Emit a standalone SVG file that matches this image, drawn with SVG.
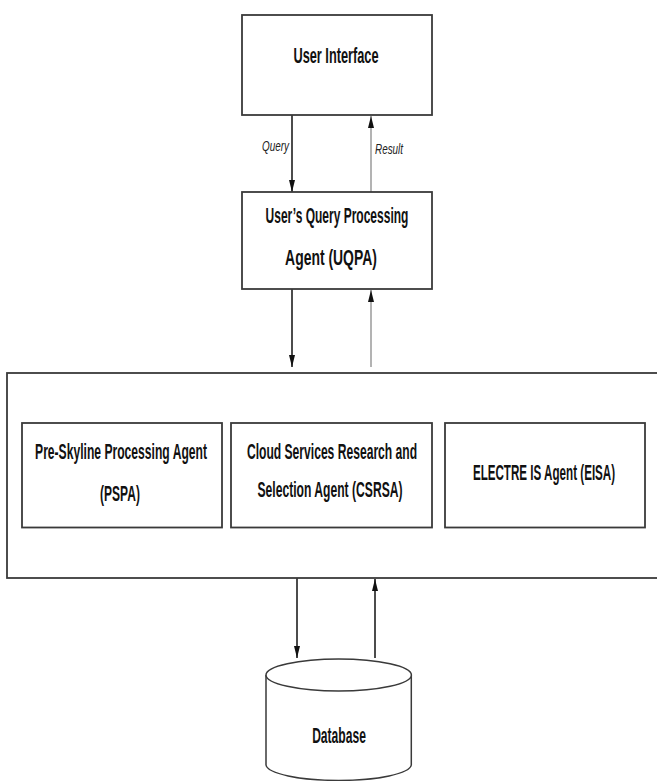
<svg xmlns="http://www.w3.org/2000/svg" width="657" height="781" viewBox="0 0 657 781">
<style>
.box{fill:#fff;stroke:#3a3a3a;stroke-width:1.8}
.lbl{font-family:"Liberation Sans","DejaVu Sans",sans-serif;font-weight:bold;font-size:22px;fill:#111;text-anchor:middle}
.it{font-family:"Liberation Sans","DejaVu Sans",sans-serif;font-style:italic;font-size:14.5px;fill:#222}
.ln{stroke:#111;stroke-width:1.5;fill:none}
.lg{stroke:#8a8a8a;stroke-width:1.3;fill:none}
</style>
<defs>
<marker id="ab" markerUnits="userSpaceOnUse" markerWidth="12" markerHeight="7" refX="12" refY="3.5" orient="auto"><path d="M0,0.5 L12,3.5 L0,6.5 z" fill="#111"/></marker>
</defs>
<rect width="657" height="781" fill="#fff"/>
<g id="connectors">
<line class="ln" x1="292" y1="115" x2="292" y2="192" marker-end="url(#ab)"/>
<line class="lg" x1="371" y1="192" x2="371" y2="116" marker-end="url(#ab)"/>
<line class="ln" x1="292" y1="289" x2="292" y2="367" marker-end="url(#ab)"/>
<line class="lg" x1="371" y1="367" x2="371" y2="290" marker-end="url(#ab)"/>
<line class="ln" x1="297" y1="578" x2="297" y2="658" marker-end="url(#ab)"/>
<line class="ln" x1="375" y1="658" x2="375" y2="579" marker-end="url(#ab)"/>
<text class="it" transform="translate(262,151) scale(0.7,1)" textLength="38.6" lengthAdjust="spacingAndGlyphs">Query</text>
<text class="it" transform="translate(375,154) scale(0.7,1)" textLength="40" lengthAdjust="spacingAndGlyphs">Result</text>
</g>
<g id="ui">
<rect class="box" x="242" y="15" width="190" height="100"/>
<text class="lbl" transform="translate(336,63) scale(0.56,1)" textLength="152" lengthAdjust="spacingAndGlyphs">User Interface</text>
</g>
<g id="uqpa">
<rect class="box" x="242" y="192" width="190" height="97"/>
<text class="lbl" transform="translate(337,223) scale(0.56,1)" textLength="255" lengthAdjust="spacingAndGlyphs">User’s Query Processing</text>
<text class="lbl" transform="translate(331,265) scale(0.56,1)" textLength="164" lengthAdjust="spacingAndGlyphs">Agent (UQPA)</text>
</g>
<g id="container">
<rect class="box" x="7" y="373" width="660" height="205"/>
</g>
<g id="pspa">
<rect class="box" x="22" y="423" width="200" height="104.5"/>
<text class="lbl" transform="translate(121,459) scale(0.56,1)" textLength="307" lengthAdjust="spacingAndGlyphs">Pre-Skyline Processing Agent</text>
<text class="lbl" transform="translate(120,501) scale(0.56,1)" textLength="71" lengthAdjust="spacingAndGlyphs">(PSPA)</text>
</g>
<g id="csrsa">
<rect class="box" x="231" y="423" width="201" height="104.5"/>
<text class="lbl" transform="translate(332,459) scale(0.56,1)" textLength="304" lengthAdjust="spacingAndGlyphs">Cloud Services Research and</text>
<text class="lbl" transform="translate(330,497) scale(0.56,1)" textLength="259" lengthAdjust="spacingAndGlyphs">Selection Agent (CSRSA)</text>
</g>
<g id="eisa">
<rect class="box" x="445" y="423" width="200" height="104.5"/>
<text class="lbl" transform="translate(544,480) scale(0.56,1)" textLength="254" lengthAdjust="spacingAndGlyphs">ELECTRE IS Agent (EISA)</text>
</g>
<g id="database">
<path d="M266,675 L266,765 A72.7,16 0 0 0 411.3,765 L411.3,675" fill="#fff" stroke="#3a3a3a" stroke-width="1.5"/>
<ellipse cx="338.7" cy="675" rx="72.7" ry="16" fill="#fff" stroke="#3a3a3a" stroke-width="1.5"/>
<text class="lbl" transform="translate(339,743) scale(0.56,1)" textLength="96" lengthAdjust="spacingAndGlyphs">Database</text>
</g>
</svg>
